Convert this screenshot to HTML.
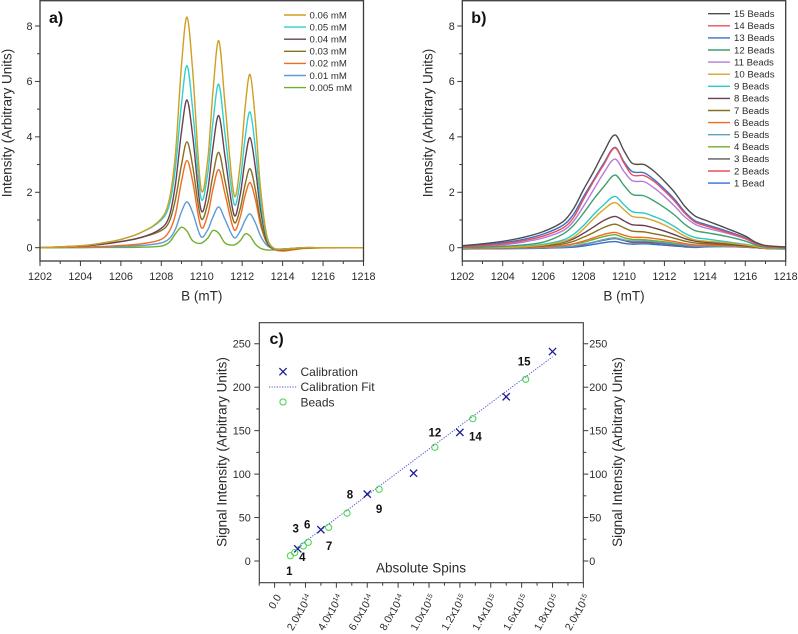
<!DOCTYPE html>
<html lang="en">
<head>
<meta charset="utf-8">
<title>EPR spectra and calibration</title>
<style>
html,body{margin:0;padding:0;background:#fff;}
svg{display:block;font-family:"Liberation Sans",sans-serif;fill:#2b2b2b;}
</style>
</head>
<body>
<svg id="fig" xmlns="http://www.w3.org/2000/svg" width="798" height="634" viewBox="0 0 798 634"></svg>
<script>
// ---------- Panel a data ----------
const fieldA = [1202,1204,1205,1206,1207,1208,1208.4,1208.7,1209,1209.27,1209.55,1209.96,1210.3,1210.55,1210.84,1211.15,1211.6,1211.9,1212.15,1212.39,1212.65,1212.9,1213.2,1213.5,1214,1215,1216,1218];
const mM006 = [0,.07,.16,.3,.55,1.05,1.75,3.4,6.6,8.32,6.4,2.15,3.2,5.6,7.47,5.2,1.9,3.0,5.1,6.25,4.6,2.2,.5,.02,-.05,0,0,0];
const mM005 = [0,.07,.16,.3,.55,1.0,1.55,2.9,5.2,6.57,5.0,1.8,2.7,4.5,5.9,4.1,1.58,2.4,4.0,4.9,3.6,1.75,.4,0,-.05,0,0,0];
const mM004 = [0,.06,.12,.22,.37,.7,1.15,2.3,4.2,5.33,4.05,1.37,2.1,3.6,4.77,3.3,1.18,1.9,3.2,3.97,2.9,1.4,.32,-.02,-.05,0,0,0];
const mM003 = [0,.06,.12,.22,.37,.62,.95,1.75,3.0,3.82,2.95,1.07,1.6,2.6,3.44,2.4,.92,1.4,2.3,2.85,2.1,1.0,.22,-.03,-.08,-.02,0,0];
const mM002 = [0,.02,.04,.08,.14,.3,.6,1.2,2.4,3.15,2.4,.75,1.2,2.1,2.82,1.95,.65,1.1,1.9,2.35,1.75,.85,.2,-.04,-.12,-.03,-.01,0];
const mM001 = [0,.01,.02,.04,.08,.17,.33,.67,1.3,1.65,1.27,.4,.65,1.1,1.47,1.02,.36,.6,1.0,1.22,.9,.44,.1,-.02,-.05,-.01,0,0];
const mM0005 = [0,0,.01,.01,.02,.06,.2,.5,.74,.6,.25,.16,.35,.62,.52,.17,.1,.25,.5,.42,.13,-.02,-.08,-.08,-.06,-.02,0,0];
const namesA = ["0.06 mM","0.05 mM","0.04 mM","0.03 mM","0.02 mM","0.01 mM","0.005 mM"];
const valuesA = [mM006,mM005,mM004,mM003,mM002,mM001,mM0005];
const colorsA = ["#cf9f22","#2fd0cf","#6a3f52","#84701f","#ee6d20","#5d9bd6","#6fae2e"];

// ---------- Panel b data ----------
const fieldB = [1202,1203,1204,1205,1206,1207,1207.5,1208,1208.5,1209,1209.55,1210,1210.4,1211,1211.5,1212,1212.5,1213,1213.5,1214,1215,1216,1216.5,1217,1218];
const beads15 = [.07,.14,.23,.37,.58,.95,1.4,2.1,2.75,3.45,4.07,3.5,3.05,3.0,2.75,2.4,2.0,1.5,1.15,1.0,.72,.42,.2,.08,.03];
const beads14 = [.02,.07,.14,.25,.42,.72,1.08,1.75,2.4,3.0,3.6,3.05,2.63,2.6,2.38,2.05,1.68,1.25,.93,.8,.58,.34,.16,.05,.01];
const beads13 = [.04,.1,.18,.3,.49,.82,1.2,1.85,2.45,3.05,3.62,3.1,2.75,2.7,2.45,2.12,1.75,1.3,.98,.85,.62,.36,.17,.06,.02];
const beads12 = [0,.02,.05,.1,.2,.5,.8,1.25,1.75,2.2,2.62,2.25,1.93,1.87,1.68,1.45,1.18,.85,.62,.55,.42,.24,.1,.02,-.02];
const beads11 = [0,.04,.1,.2,.35,.62,.95,1.5,2.1,2.7,3.2,2.75,2.42,2.38,2.15,1.85,1.5,1.12,.85,.72,.54,.32,.14,.04,0];
const beads10 = [-.02,0,.01,.03,.09,.22,.38,.68,1.05,1.38,1.63,1.37,1.13,1.08,.97,.82,.63,.42,.28,.24,.18,.1,.04,-.01,-.03];
const beads9 = [-.02,0,.02,.05,.12,.28,.48,.8,1.2,1.55,1.85,1.55,1.3,1.25,1.12,.97,.76,.52,.37,.32,.22,.12,.05,0,-.03];
const beads8 = [-.02,-.01,.01,.03,.08,.2,.32,.52,.75,.98,1.13,.97,.83,.8,.71,.6,.47,.33,.24,.2,.15,.08,.03,-.01,-.03];
const beads7 = [-.03,-.01,0,.02,.06,.14,.23,.38,.55,.73,.85,.72,.6,.57,.5,.43,.34,.24,.17,.15,.11,.06,.02,-.01,-.03];
const beads6 = [-.03,-.02,-.01,.01,.03,.08,.14,.24,.36,.48,.55,.45,.38,.37,.33,.28,.22,.15,.1,.1,.08,.04,.01,-.02,-.04];
const beads5 = [-.04,-.03,-.02,-.01,0,.03,.06,.13,.2,.29,.35,.28,.24,.24,.21,.17,.13,.09,.05,.06,.05,.03,0,-.02,-.04];
const beads4 = [-.03,-.02,-.01,0,.02,.07,.13,.2,.3,.4,.47,.36,.3,.29,.25,.21,.16,.11,.08,.08,.06,.03,0,-.02,-.04];
const beads3 = [-.04,-.03,-.02,-.01,0,.03,.06,.12,.19,.27,.33,.26,.21,.21,.18,.15,.11,.07,.04,.05,.05,.03,0,-.02,-.04];
const beads2 = [-.04,-.03,-.03,-.02,-.01,.02,.05,.11,.2,.29,.35,.26,.19,.19,.17,.14,.1,.06,.03,.04,.04,.02,0,-.02,-.04];
const beads1 = [-.05,-.04,-.04,-.03,-.02,0,.02,.06,.12,.18,.22,.16,.13,.14,.12,.09,.06,.03,.01,.03,.04,.02,0,-.03,-.05];
const namesB = ["15 Beads","14 Beads","13 Beads","12 Beads","11 Beads","10 Beads","9 Beads","8 Beads","7 Beads","6 Beads","5 Beads","4 Beads","3 Beads","2 Beads","1 Bead"];
const valuesB = [beads15,beads14,beads13,beads12,beads11,beads10,beads9,beads8,beads7,beads6,beads5,beads4,beads3,beads2,beads1];
const colorsB = ["#4d4d4f","#e9505a","#3b6fc9","#3f9f72","#b67bd8","#d3a62c","#2cc9c9","#6a3f52","#84701f","#ee6d20","#5f9fc0","#6fae2e","#5a5a5c","#e9505a","#2c6fd6"];

// ---------- Shared ticks ----------
const fieldTicks = [1202,1204,1206,1208,1210,1212,1214,1216,1218];
const fieldMinor = [1203,1205,1207,1209,1211,1213,1215,1217];
const intensityTicks = [0,2,4,6,8];
const intensityMinor = [1,3,5,7];

// ---------- Panel c data ----------
const calibSpins = [1.5,3,6,9,12,15,18];
const calibSignal = [14,36,77,101,148,189,241];
const fitSpins = [1.5,18];
const fitSignal = [16,235];
const beadSpins = [1.02,1.3,1.86,2.18,3.5,4.69,6.77,10.38,12.84,16.26];
const beadSignal = [6,9.6,17.3,21.5,38.7,55,82.5,130.8,163.8,209];
const beadNumbers = ["1","3","4","6","7","8","9","12","14","15"];
const spinTicks = [0,2,4,6,8,10,12,14,16,18,20];
const spinMinor = [-1,1,3,5,7,9,11,13,15,17,19];
const spinMantissa = ["0.0","2.0","4.0","6.0","8.0","1.0","1.2","1.4","1.6","1.8","2.0"];
const spinExponent = ["","14","14","14","14","15","15","15","15","15","15"];
const signalTicks = [0,50,100,150,200,250];
const signalMinor = [25,75,125,175,225];

const NS = "http://www.w3.org/2000/svg";
const svg = document.getElementById("fig");
function mk(tag, attrs, parent, txt){
  const e = document.createElementNS(NS, tag);
  for(const k in attrs) e.setAttribute(k, attrs[k]);
  if(txt !== undefined) e.textContent = txt;
  (parent || svg).appendChild(e);
  return e;
}
function smoothPath(xs, ys, sx, sy){
  const p = xs.map((x,i)=>[sx(x), sy(ys[i])]);
  let d = "M"+p[0][0].toFixed(2)+" "+p[0][1].toFixed(2);
  const n = p.length;
  const m = p.map((q,i)=>{
    const a = p[Math.max(i-1,0)], b = p[Math.min(i+1,n-1)];
    return (b[1]-a[1])/((b[0]-a[0])||1);
  });
  for(let i=0;i<n-1;i++){
    const h = (p[i+1][0]-p[i][0])/3;
    d += "C"+(p[i][0]+h).toFixed(2)+" "+(p[i][1]+m[i]*h).toFixed(2)+" "+(p[i+1][0]-h).toFixed(2)+" "+(p[i+1][1]-m[i+1]*h).toFixed(2)+" "+p[i+1][0].toFixed(2)+" "+p[i+1][1].toFixed(2);
  }
  return d;
}
const AXIS = "#3a3a3a";

function spectrumPanel(cfg){
  const g = mk("g", {});
  
  
  const sx = v => cfg.x0 + (v-1202)*(cfg.x1-cfg.x0)/16;
  const sy = v => 247.7 - v*27.71;
  // series
  const lines = mk("g", {}, g);
  
  
  for(let i=cfg.values.length-1;i>=0;i--){
    const p = mk("path", {d:smoothPath(cfg.xs,cfg.values[i],sx,sy),fill:"none",stroke:cfg.colors[i],"stroke-width":1.4,"stroke-linejoin":"round"}, lines);
    
    
  }
  // frame
  const fr = mk("rect", {x:cfg.x0,y:0.7,width:cfg.x1-cfg.x0,height:260.3,fill:"none",stroke:AXIS,"stroke-width":1.3}, g);
  
  
  // x ticks
  fieldTicks.forEach(t=>{
    mk("line",{x1:sx(t),x2:sx(t),y1:261,y2:266,stroke:AXIS,"stroke-width":1},g);
    const l = mk("text",{x:sx(t),y:280,"text-anchor":"middle","font-size":10.8},g,String(t));
    
    
  });
  fieldMinor.forEach(t=>mk("line",{x1:sx(t),x2:sx(t),y1:261,y2:264,stroke:AXIS,"stroke-width":1},g));
  // y ticks
  intensityTicks.forEach(t=>{
    mk("line",{x1:cfg.x0-5,x2:cfg.x0,y1:sy(t),y2:sy(t),stroke:AXIS,"stroke-width":1},g);
    const l = mk("text",{x:cfg.x0-7.5,y:sy(t)+3.8,"text-anchor":"end","font-size":10.8},g,String(t));
    
    
  });
  intensityMinor.forEach(t=>mk("line",{x1:cfg.x0-3,x2:cfg.x0,y1:sy(t),y2:sy(t),stroke:AXIS,"stroke-width":1},g));
  // titles
  const xt = mk("text",{x:(cfg.x0+cfg.x1)/2,y:300.5,"text-anchor":"middle","font-size":13.5},g,"B (mT)");
  
  
  const yt = mk("text",{transform:"translate("+cfg.titleX+",123) rotate(-90)","text-anchor":"middle","font-size":13.5},g,"Intensity (Arbitrary Units)");
  
  
  const pl = mk("text",{x:cfg.x0+9,y:23,"font-size":16,"font-weight":"bold",fill:"#111"},g,cfg.label);
  
  
  // legend
  cfg.names.forEach((n,i)=>{
    const y = cfg.legY + i*12.1;
    const e = mk("g",{},g);
    
    
    mk("line",{x1:cfg.legX,x2:cfg.legX+22,y1:y,y2:y,stroke:cfg.colors[i],"stroke-width":1.4},e);
    mk("text",{x:cfg.legX+cfg.legGap,y:y+3.3,"font-size":cfg.legFont},e,n);
  });
}
spectrumPanel({id:"a",x0:40,x1:363.5,xs:fieldA,values:valuesA,colors:colorsA,names:namesA,label:"a)",titleX:11.5,legX:284,legY:15,legGap:25.5,legFont:9.6});
spectrumPanel({id:"b",x0:462.3,x1:785.7,xs:fieldB,values:valuesB,colors:colorsB,names:namesB,label:"b)",titleX:432.5,legX:708,legY:13.7,legGap:26,legFont:9.6});

// ---------- Panel c ----------
(function(){
  const g = mk("g", {});
  
  
  const L=259.3,R=583.3,T=322.7,B=582.7;
  const sx = v => 274.6 + v*15.44;
  const sy = v => 561 - v*0.869;
  const fr = mk("rect",{x:L,y:T,width:R-L,height:B-T,fill:"none",stroke:AXIS,"stroke-width":1.1},g);
  
  
  spinTicks.forEach((t,i)=>{
    mk("line",{x1:sx(t),x2:sx(t),y1:B,y2:B+5,stroke:AXIS,"stroke-width":1},g);
    const tx = mk("text",{transform:"translate("+(sx(t)+7)+",597) rotate(-60)","text-anchor":"end","font-size":10.6},g);
    
    
    if(spinExponent[i]){
      mk("tspan",{},tx,spinMantissa[i]+"x10");
      mk("tspan",{"font-size":7,dy:-3.5},tx,spinExponent[i]);
    } else {
      tx.textContent = spinMantissa[i];
    }
  });
  spinMinor.forEach(t=>mk("line",{x1:sx(t),x2:sx(t),y1:B,y2:B+3,stroke:AXIS,"stroke-width":1},g));
  signalTicks.forEach(t=>{
    mk("line",{x1:L-5,x2:L,y1:sy(t),y2:sy(t),stroke:AXIS,"stroke-width":1},g);
    mk("line",{x1:R,x2:R+5,y1:sy(t),y2:sy(t),stroke:AXIS,"stroke-width":1},g);
    const a = mk("text",{x:L-8.5,y:sy(t)+3.9,"text-anchor":"end","font-size":10.8},g,String(t));
    
    
    const b = mk("text",{x:R+6,y:sy(t)+3.9,"font-size":10.8},g,String(t));
    
    
  });
  signalMinor.forEach(t=>{
    mk("line",{x1:L-3,x2:L,y1:sy(t),y2:sy(t),stroke:AXIS,"stroke-width":1},g);
    mk("line",{x1:R,x2:R+3,y1:sy(t),y2:sy(t),stroke:AXIS,"stroke-width":1},g);
  });
  const yl = mk("text",{transform:"translate(226.5,452) rotate(-90)","text-anchor":"middle","font-size":13.5},g,"Signal Intensity (Arbitrary Units)");
  
  
  const yr = mk("text",{transform:"translate(622,452) rotate(-90)","text-anchor":"middle","font-size":13.5},g,"Signal Intensity (Arbitrary Units)");
  
  
  const xl = mk("text",{x:421,y:572.5,"text-anchor":"middle","font-size":13.5},g,"Absolute Spins");
  
  
  const pl = mk("text",{x:269.5,y:344,"font-size":16,"font-weight":"bold",fill:"#111"},g,"c)");
  
  
  // fit
  const fit = mk("line",{x1:sx(fitSpins[0]),y1:sy(fitSignal[0]),x2:sx(fitSpins[1]),y2:sy(fitSignal[1]),stroke:"#4a50c8","stroke-width":1,"stroke-dasharray":"1.2 1.4"},g);
  
  
  function cross(cx,cy,parent){
    const c = mk("path",{d:"M"+(cx-3.6)+" "+(cy-3.6)+"L"+(cx+3.6)+" "+(cy+3.6)+"M"+(cx-3.6)+" "+(cy+3.6)+"L"+(cx+3.6)+" "+(cy-3.6),stroke:"#1c1c96","stroke-width":1.3,fill:"none"},parent);
    return c;
  }
  calibSpins.forEach((x,i)=>{
    const c = cross(sx(x),sy(calibSignal[i]),g);
    
    
  });
  // per-bead label offsets are placement only; position follows the point
  const labelDx = [-1,1,-1,-1,0.5,3,0,0,2.5,-1.5];
  const labelDy = [19,-20,15,-14,22.5,-14.5,23.5,-11,22,-14];
  beadSpins.forEach((x,i)=>{
    const c = mk("circle",{cx:sx(x),cy:sy(beadSignal[i]),r:3.1,fill:"none",stroke:"#4fd65a","stroke-width":1.1},g);
    
    
    const l = mk("text",{x:sx(x)+labelDx[i],y:sy(beadSignal[i])+labelDy[i],"text-anchor":"middle","font-size":11.5,"font-weight":"bold",fill:"#111"},g,beadNumbers[i]);
    
    
  });
  // legend
  const lg = mk("g",{},g);
  
  
  const lc = cross(283,371.7,lg);
  
  
  mk("text",{x:300.5,y:376,"font-size":12},lg,"Calibration");
  const lf = mk("line",{x1:269,x2:297,y1:387,y2:387,stroke:"#4a50c8","stroke-width":1,"stroke-dasharray":"1.2 1.4"},lg);
  
  
  mk("text",{x:300.5,y:391,"font-size":12},lg,"Calibration Fit");
  const lb = mk("circle",{cx:283,cy:402,r:3.1,fill:"none",stroke:"#4fd65a","stroke-width":1.1},lg);
  
  
  mk("text",{x:300.5,y:406.5,"font-size":12},lg,"Beads");
})();
</script>
</body>
</html>
